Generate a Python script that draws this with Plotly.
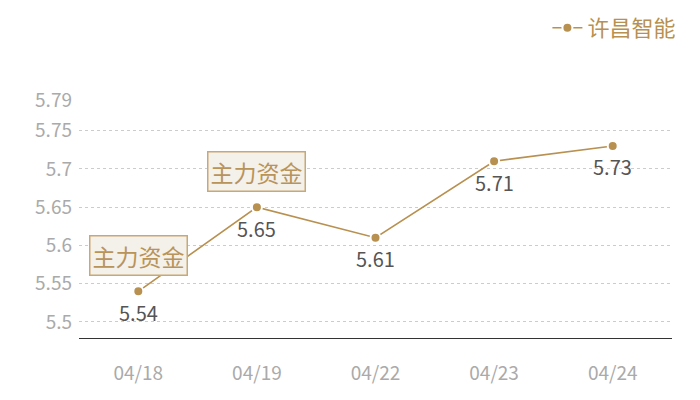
import plotly.graph_objects as go

dates = ["04/18", "04/19", "04/22", "04/23", "04/24"]
prices = [5.54, 5.65, 5.61, 5.71, 5.73]
series_name = "许昌智能"

# 标注“主力资金”的日期
flag_dates = ["04/18", "04/19"]
flag_text = "主力资金"

y_ticks = [5.5, 5.55, 5.6, 5.65, 5.7, 5.75, 5.79]
y_tick_text = ["5.5", "5.55", "5.6", "5.65", "5.7", "5.75", "5.79"]

gold = "#b8904f"
font_cjk = "Noto Sans CJK SC"

fig = go.Figure()

fig.add_trace(go.Scatter(
    x=dates,
    y=prices,
    mode="lines+markers",
    name=series_name,
    line=dict(color=gold, width=1.6),
    marker=dict(color=gold, size=10, line=dict(color="white", width=2)),
))

# 数值标签（点下方）
for d, p in zip(dates, prices):
    fig.add_annotation(
        x=d, y=p, xref="x", yref="y",
        text=str(p), showarrow=False, yshift=-21,
        font=dict(family=font_cjk, size=20, color="#555555"),
    )

for d in flag_dates:
    i = dates.index(d)
    fig.add_annotation(
        x=d, y=prices[i], xref="x", yref="y",
        text=flag_text, showarrow=False,
        yshift=36,
        font=dict(family=font_cjk, size=23, color="#b8935a"),
        bgcolor="#f4f0ea", bordercolor="#c9a873", borderwidth=1.5, borderpad=2,
    )

# 页面 body 有 8px 默认边距，边距按此补偿
fig.update_layout(
    width=700, height=400,
    margin=dict(l=71, r=36, t=92, b=70),
    paper_bgcolor="white",
    plot_bgcolor="white",
    showlegend=True,
    legend=dict(
        xref="container", yref="container",
        x=0.962, y=0.95, xanchor="right", yanchor="middle",
        orientation="h",
        font=dict(family=font_cjk, size=22, color=gold),
        itemwidth=30,
    ),
    xaxis=dict(
        type="category",
        range=[-0.5, 4.5],
        automargin=False,
        showgrid=False,
        showline=True, linecolor="#333333", linewidth=1,
        ticks="",
        tickfont=dict(family=font_cjk, size=19, color="#aaaaaa"),
        ticklabelstandoff=18,
    ),
    yaxis=dict(
        range=[5.479, 5.79],
        automargin=False,
        tickvals=y_ticks, ticktext=y_tick_text,
        showgrid=True, gridcolor="#cccccc", griddash="dot", gridwidth=1,
        zeroline=False, showline=False,
        tickfont=dict(family=font_cjk, size=19, color="#aaaaaa"),
        ticklabelstandoff=6,
    ),
)

fig.write_html("out.html")
